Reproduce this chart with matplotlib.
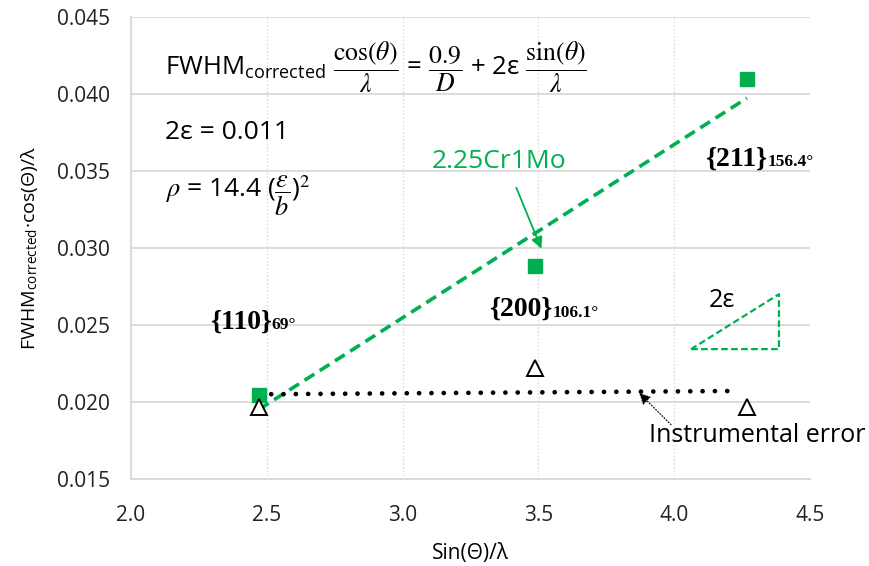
import numpy as np
import matplotlib.pyplot as plt

plt.rcParams['font.family'] = ['Open Sans', 'DejaVu Sans']
plt.rcParams['mathtext.fontset'] = 'custom'
plt.rcParams['mathtext.rm'] = 'STIXGeneral'
plt.rcParams['mathtext.it'] = 'STIXGeneral:italic'
plt.rcParams['mathtext.bf'] = 'STIXGeneral:bold'
plt.rcParams['mathtext.sf'] = 'Open Sans'

# sin(theta)/lambda for the three reflections
x_peaks = [2.471, 3.489, 4.268]
# 2.25Cr1Mo sample
y_sample = [0.02045, 0.02883, 0.04097]
# reference (instrumental) broadening
y_instr = [0.01968, 0.0222, 0.01968]
peak_labels = ['{110}', '{200}', '{211}']
peak_angles = ['69°', '106.1°', '156.4°']

green = '#00B050'

fig = plt.figure(figsize=(8.69, 5.66), dpi=100)
ax = fig.add_axes([0.1507, 0.1537, 0.7813, 0.8157])

# linear fits
p_s = np.polyfit(x_peaks, y_sample, 1)
p_i = np.polyfit(x_peaks, y_instr, 1)
xf = np.array([x_peaks[0], x_peaks[-1]])
ax.plot(xf, np.polyval(p_s, xf), color=green, lw=2.6, dashes=(3.2, 1.8), zorder=3)
xi = np.array([x_peaks[0], 4.23])
ax.plot(xi, np.polyval(p_i, xi) + 0.0001, color='black', lw=3.4, linestyle=(0, (0.01, 2.6)),
        dash_capstyle='round', zorder=3)

ax.plot(x_peaks, y_sample, 's', color=green, ms=10, zorder=4)
ax.plot(x_peaks, y_instr, '^', mfc='white', mec='black', mew=1.4, ms=11, zorder=4)

ax.set_xlim(2.0, 4.5)
ax.set_ylim(0.015, 0.045)
ax.set_xticks(np.arange(2.0, 4.51, 0.5))
ax.set_yticks(np.arange(0.015, 0.0451, 0.005))
ax.xaxis.set_major_formatter(plt.FormatStrFormatter('%.1f'))
ax.yaxis.set_major_formatter(plt.FormatStrFormatter('%.3f'))
ax.tick_params(length=0, labelsize=15, colors='#222222')
ax.tick_params(axis='x', pad=19)
ax.tick_params(axis='y', pad=15)
ax.grid(axis='y', color='#d9d9d9', lw=1.3)
ax.grid(axis='x', color='#d9d9d9', lw=1, linestyle=':')
ax.set_axisbelow(True)
for s in ['top', 'right']:
    ax.spines[s].set_visible(False)
for s in ['left', 'bottom']:
    ax.spines[s].set_color('#d9d9d9')
    ax.spines[s].set_linewidth(1.3)

ax.set_xlabel('Sin(Θ)/λ', fontsize=15, labelpad=12)
ax.set_ylabel(r'FWHM$_{\mathsf{corrected}}$·cos(Θ)/λ', fontsize=14, labelpad=12)

# equations
ax.text(2.125, 0.04175,
        r'FWHM$_{\mathsf{corrected}}$ $\dfrac{\cos(\theta)}{\lambda}$ = $\dfrac{0.9}{D}$ + 2ε $\dfrac{\sin(\theta)}{\lambda}$',
        fontsize=18.5, va='center')
ax.text(2.125, 0.0375, '2ε = 0.011', fontsize=19, va='center')
ax.text(2.125, 0.0334, r'$\rho$ = 14.4 ($\dfrac{\varepsilon}{b}$)$^2$', fontsize=19, va='center')

# peak labels
lab_pos = [(2.29, 0.0252), (3.32, 0.0260), (4.114, 0.0358)]
for (lx, ly), hkl, ang in zip(lab_pos, peak_labels, peak_angles):
    t = ax.text(lx, ly, hkl, fontsize=20, fontweight='bold', family='Liberation Serif', va='center')
    ax.annotate(ang, xy=(1, 0), xycoords=t, xytext=(0, 1), textcoords='offset points',
                fontsize=12.5, fontweight='bold', family='Liberation Serif', va='bottom')

# sample label with arrow
ax.text(3.357, 0.0356, '2.25Cr1Mo', color=green, fontsize=19, ha='center', va='center')
ax.annotate('', xy=(3.515, 0.0298), xytext=(3.415, 0.0341),
            arrowprops=dict(arrowstyle='-|>', color=green, lw=1.3, mutation_scale=17))

# slope triangle
tri_x = [4.0625, 4.386, 4.386, 4.0625]
tri_y = [0.02344, 0.02344, 0.02701, 0.02344]
ax.plot(tri_x, tri_y, color=green, lw=1.6, dashes=(3, 1.5))
ax.text(4.176, 0.0266, '2ε', fontsize=18, ha='center', va='center')

# instrumental error label
ax.text(4.305, 0.0178, 'Instrumental error', fontsize=18, ha='center', va='center')
ax.annotate('', xy=(3.864, 0.02072), xytext=(3.996, 0.0184),
            arrowprops=dict(arrowstyle='-|>', color='black', lw=0.8, linestyle=':',
                            mutation_scale=17))

fig.savefig('out.png', dpi=100)
